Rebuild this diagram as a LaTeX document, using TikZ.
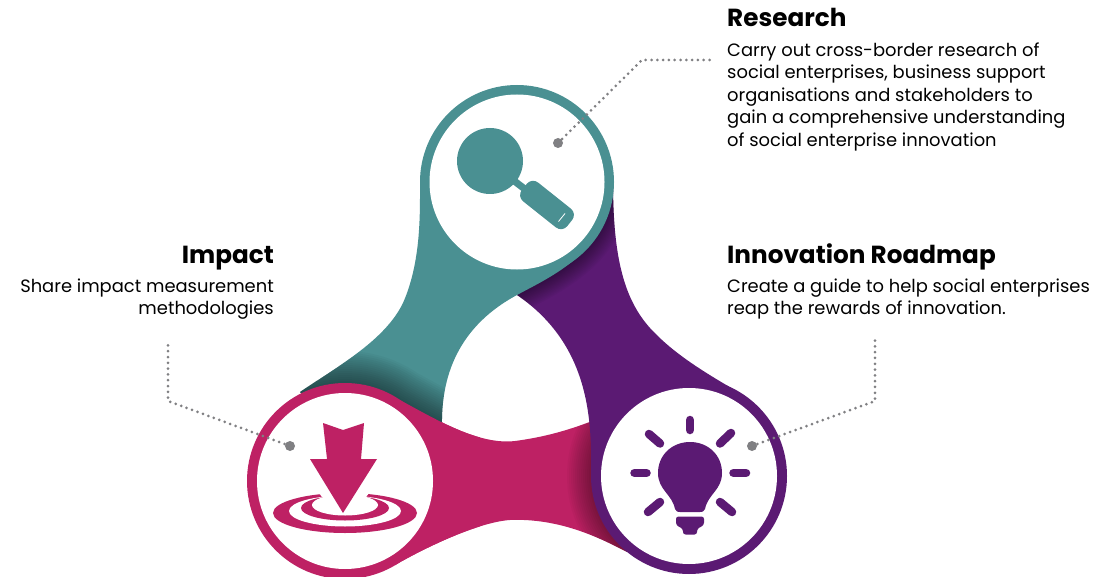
\documentclass[tikz,border=0pt]{standalone}
\usepackage{fontspec}
\setmainfont{Poppins}
\definecolor{tealc}{HTML}{4A9092}
\definecolor{pinkc}{HTML}{BE2164}
\definecolor{purpc}{HTML}{5B1A73}
\definecolor{dotc}{HTML}{808083}
\def\tealband{(420,182) .. controls (420,215) and (421,262) .. (403,303) .. controls (385,340) and (340,365) .. (300,392) -- (345,440) -- (442,428) .. controls (441,385) and (452,330) .. (517,295) .. controls (550,277) and (613,250) .. (613,182) -- cycle}
\def\tealedge{(517,295) .. controls (550,277) and (613,250) .. (613,182)}
\def\purpband{(613,182) .. controls (613,260) and (625,300) .. (650,328) .. controls (672,352) and (700,370) .. (740,393) -- (689,476) -- (591,476) .. controls (592,420) and (590,345) .. (517,295) -- cycle}
\def\pinkband{(400,400) .. controls (440,422) and (480,445) .. (515,441) .. controls (545,437) and (570,430) .. (600,418) -- (689,476) -- (627,552) .. controls (600,538) and (560,518) .. (510,520) .. controls (480,522) and (430,545) .. (395,565) -- (345,481) -- cycle}
\def\pinkedge{(400,400) .. controls (440,422) and (480,445) .. (515,441)}
\tikzset{
  disc/.style={circle,fill=white,draw=none,inner sep=0pt,minimum size=175pt},
  leaddot/.style={circle,fill=dotc,draw=none,inner sep=0pt,minimum size=10pt},
  leader/.style={draw=dotc,line width=3pt,line cap=round,dash pattern=on 0pt off 5.8pt},
  head/.style={inner sep=0pt,font=\fontsize{24.7}{28}\selectfont\bfseries},
  body/.style={inner sep=0pt,font=\fontsize{17.9}{22.5}\selectfont},
  ray/.style={line width=8.5pt,line cap=round,draw=purpc}
}
\begin{document}
\begin{tikzpicture}[x=1pt,y=-1pt]
\useasboundingbox (0,0) rectangle (1118,577);
% pink band
\fill[pinkc] \pinkband;
\begin{scope}
  \clip \pinkband;
  \foreach \w in {4,8,...,48}
    \fill[black,opacity=.03] (689,476) circle[radius=98pt+\w pt/2];
\end{scope}
% purple band
\fill[purpc] \purpband;
\fill[purpc] (689,476) circle[radius=98pt];
\begin{scope}
  \clip \purpband;
  \foreach \w in {3,6,...,36}
    \draw[black,opacity=.035,line width=\w pt] \tealedge;
\end{scope}
% teal band
\fill[tealc] \tealband;
\fill[tealc] (517,182) circle[radius=97pt];
\begin{scope}
  \clip \tealband;
  \foreach \w in {4,8,...,64}
    \draw[black,opacity=.03,line width=\w pt] (345,481) circle[radius=98pt] \pinkedge;
\end{scope}
% pink top layer
\begin{scope}
  \clip (240,370) rectangle (480,577);
  \fill[pinkc] \pinkband;
\end{scope}
\fill[pinkc] (345,481) circle[radius=98pt];
% discs
\node[disc] (discR) at (517,182) {};
\node[disc,minimum size=176pt] (discP) at (345,481) {};
\node[disc,minimum size=176pt] (discI) at (689,476) {};
% magnifier
\fill[tealc] (490,161) circle[radius=33pt];
\draw[tealc,line width=7pt] (513,180) -- (530,193);
\begin{scope}[shift={(547,205)},rotate=-38.5]
  \fill[tealc,rounded corners=8pt] (-29,12) rectangle (29,-12);
\end{scope}
\draw[white,line width=.8pt] (558.5,221.5) -- (565,213.5);
% target
\fill[pinkc] (345,513) ellipse[x radius=72pt,y radius=20pt];
\fill[white] (345,511) ellipse[x radius=56pt,y radius=15.5pt];
\fill[pinkc] (345,508) ellipse[x radius=44pt,y radius=12.5pt];
\fill[white] (345,505) ellipse[x radius=33pt,y radius=10.5pt];
\fill[white] (315,488) -- (373,488) -- (366,497) -- (322,497) -- cycle;
\fill[pinkc] (323,423) -- (343,430) -- (364,423) -- (361,459) -- (377,459) -- (343,513) -- (310,459) -- (327,459) -- cycle;
% bulb
\fill[purpc] (675,509) .. controls (672,494) and (658,490) .. (658,473) .. controls (658,455) and (672,442) .. (690,442) .. controls (708,442) and (722,455) .. (722,473) .. controls (722,490) and (708,494) .. (705,509) .. controls (704,512) and (702,512) .. (700,512) -- (680,512) .. controls (678,512) and (676,512) .. (675,509) -- cycle;
\fill[purpc,rounded corners=2.5pt] (676,516.5) -- (704,516.5) -- (704,525) -- (697,529) -- (697,534.5) -- (683,534.5) -- (683,529) -- (676,525) -- cycle;
\draw[ray] (690,420) -- (690,430);
\draw[ray] (634.5,473) -- (646.5,473);
\draw[ray] (733.5,473) -- (746,473);
\draw[ray] (649,434) -- (660,443.5);
\draw[ray] (731,433) -- (720,443.5);
\draw[ray] (648,512) -- (660,502);
\draw[ray] (732,512) -- (720,502);
% leaders
\node[leaddot] (dotR) at (558,143) {};
\node[leaddot] (dotP) at (290,446) {};
\node[leaddot] (dotI) at (752,446) {};
\coordinate (r1) at (642,60); \coordinate (r2) at (712,60);
\coordinate (p1) at (168,401); \coordinate (p2) at (168,340);
\coordinate (i1) at (875,401); \coordinate (i2) at (875,340);
\draw[leader] (dotR.center) -- (r1) -- (r2);
\draw[leader] (dotP.center) -- (p1) -- (p2);
\draw[leader] (dotI.center) -- (i1) -- (i2);
% text
\node[head,anchor=base west] (tR) at (727,27) {Research};
\node[body,anchor=north west,align=left] (bR) at (727,42.5) {Carry out cross-border research of\\social enterprises, business support\\organisations and stakeholders to\\gain a comprehensive understanding\\of social enterprise innovation};
\node[head,anchor=base west] (tI) at (727,263) {Innovation Roadmap};
\node[body,anchor=north west,align=left] (bI) at (727,278.5) {Create a guide to help social enterprises\\reap the rewards of innovation.};
\node[head,anchor=base east] (tP) at (274,263) {Impact};
\node[body,anchor=north east,align=right] (bP) at (274,278.5) {Share impact measurement\\methodologies};
\end{tikzpicture}
\end{document}
